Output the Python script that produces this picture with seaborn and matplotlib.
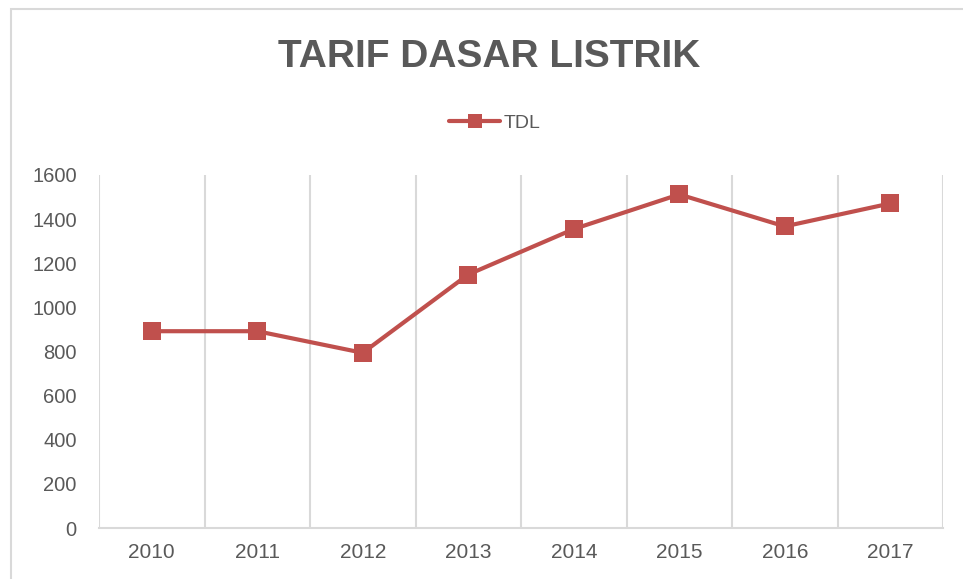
import seaborn as sns
import matplotlib.pyplot as plt
import matplotlib.patches as mpatches
import numpy as np
import pandas as pd

# Data
years = ["2010", "2011", "2012", "2013", "2014", "2015", "2016", "2017"]
tdl = [892, 892, 794, 1149, 1355, 1512, 1367, 1471]
y_ticks = [0, 200, 400, 600, 800, 1000, 1200, 1400, 1600]

line_color = "#C0504D"
text_color = "#595959"
grid_color = "#D9D9D9"

sns.set_theme(style="white")
plt.rcParams["font.family"] = ["Liberation Sans", "DejaVu Sans"]

df = pd.DataFrame({"year": years, "TDL": tdl})

fig = plt.figure(figsize=(9.63, 5.79), dpi=100)
ax = fig.add_axes([99 / 963, 1 - 528 / 579, (943 - 99) / 963, (528 - 175) / 579])

sns.lineplot(
    df, x="year", y="TDL", ax=ax, color=line_color, linewidth=3,
    marker="s", markersize=13, markeredgewidth=0, label="TDL", sort=False,
)

# Axes format
ax.set_xlim(-0.5, len(years) - 0.5)
ax.set_ylim(0, 1600)
ax.set_yticks(y_ticks)
ax.set_xticks(range(len(years)))
ax.set_xticklabels(years)
ax.set_xticks(np.arange(-0.5, len(years), 1), minor=True)
ax.grid(False)
ax.grid(True, axis="x", which="minor", color=grid_color, linewidth=1.5)
ax.tick_params(axis="both", which="both", length=0, labelsize=14.5, colors=text_color)
ax.tick_params(axis="x", pad=11, labelsize=15)
ax.tick_params(axis="y", pad=16)
for side in ["top", "right", "left"]:
    ax.spines[side].set_visible(False)
ax.spines["bottom"].set_color(grid_color)
ax.spines["bottom"].set_linewidth(1.5)
ax.set_xlabel(None)
ax.set_ylabel(None)

# Legend
leg = ax.legend(
    loc="center", bbox_to_anchor=(495 / 963, 1 - 123 / 579), bbox_transform=fig.transFigure,
    frameon=False, fontsize=14, handlelength=2.6, handletextpad=0.2, markerscale=0.75,
)
for t in leg.get_texts():
    t.set_color(text_color)

# Title
fig.text(
    489 / 963, 1 - 57 / 579, "TARIF DASAR LISTRIK", ha="center", va="center",
    fontsize=28, fontweight="bold", color=text_color,
)

# Outer chart border
fig.patches.append(mpatches.Rectangle(
    (11 / 963, -0.1), 1.2, 1 - 9 / 579 + 0.1, transform=fig.transFigure,
    fill=False, edgecolor="#D9D9D9", linewidth=1.5,
))

plt.savefig("out.png", dpi=100)
